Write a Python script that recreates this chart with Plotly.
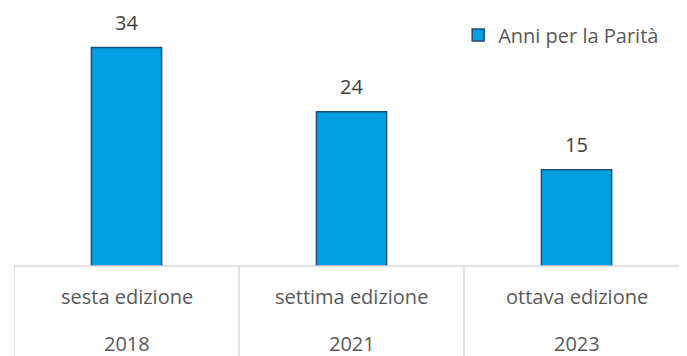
import plotly.graph_objects as go

categories = ["sesta edizione", "settima edizione", "ottava edizione"]
years = ["2018", "2021", "2023"]
values = [34, 24, 15]
series_name = "Anni per la Parità"

FONT = "Open Sans"
FS = 20
fig = go.Figure()
fig.add_trace(go.Bar(
    x=categories, y=values, name=series_name,
    marker=dict(color="#00A0E3", line=dict(color="#1F4E79", width=1.5)),
    showlegend=True,
))

annotations = []
for c, v in zip(categories, values):
    annotations.append(dict(x=c, y=v, xref="x", yref="y", text=str(v), showarrow=False,
                            yanchor="bottom", yshift=10,
                            font=dict(family=FONT, size=FS, color="#404040")))
for c, yr in zip(categories, years):
    annotations.append(dict(x=c, y=-0.1206, xref="x", yref="paper", text=c, showarrow=False,
                            yanchor="middle", font=dict(family=FONT, size=FS, color="#595959")))
    annotations.append(dict(x=c, y=-0.3035, xref="x", yref="paper", text=yr, showarrow=False,
                            yanchor="middle", font=dict(family=FONT, size=FS, color="#595959")))

shapes = []
for i in range(len(categories)):
    shapes.append(dict(type="line", xref="x", yref="paper", x0=i - 0.5, x1=i - 0.5,
                       y0=0, y1=-0.5, line=dict(color="#D9D9D9", width=1.5)))
shapes.append(dict(type="line", xref="paper", yref="paper", x0=0, x1=1, y0=0, y1=0,
                   line=dict(color="#D9D9D9", width=1.5)))

fig.update_layout(
    width=679, height=348,
    margin=dict(l=6, r=0, t=1, b=90),
    paper_bgcolor="white", plot_bgcolor="white",
    bargap=0.688,
    xaxis=dict(showticklabels=False, showgrid=False, zeroline=False, showline=False,
               range=[-0.5, 2.491]),
    yaxis=dict(range=[0, 40], visible=False, showgrid=False, zeroline=False),
    legend=dict(x=0.66, y=0.975, xanchor="left", yanchor="top",
                font=dict(family=FONT, size=FS, color="#595959"),
                bgcolor="rgba(0,0,0,0)"),
    annotations=annotations, shapes=shapes,
    font=dict(family=FONT),
)

fig.write_html("out.html")
